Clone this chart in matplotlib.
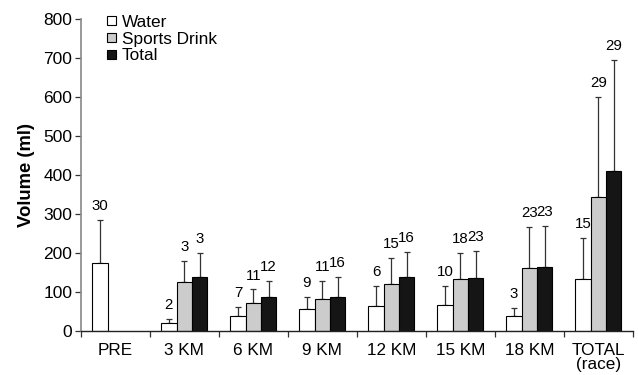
import numpy as np
import matplotlib
matplotlib.use("Agg")
import matplotlib.pyplot as plt
from matplotlib.patches import Rectangle

plt.rcParams['font.family'] = ['Liberation Sans', 'DejaVu Sans']

categories = ["PRE", "3 KM", "6 KM", "9 KM", "12 KM", "15 KM", "18 KM", "TOTAL\n(race)"]

water = [173, 20, 38, 55, 63, 65, 37, 132]
water_sd = [111, 10, 23, 32, 51, 51, 22, 107]
water_n = [30, 2, 7, 9, 6, 10, 3, 15]

sports = [np.nan, 126, 71, 81, 121, 133, 160, 343]
sports_sd = [np.nan, 54, 35, 47, 65, 68, 107, 258]
sports_n = [None, 3, 11, 11, 15, 18, 23, 29]

total = [np.nan, 138, 87, 86, 137, 135, 165, 410]
total_sd = [np.nan, 61, 42, 51, 66, 71, 105, 286]
total_n = [None, 3, 12, 16, 16, 23, 23, 29]

series = [
    ("Water", water, water_sd, water_n, "white"),
    ("Sports Drink", sports, sports_sd, sports_n, "#cccccc"),
    ("Total", total, total_sd, total_n, "#151515"),
]

W, H = 638, 375
fig = plt.figure(figsize=(W / 100, H / 100), dpi=100)
ax = fig.add_axes([0.1265, 0.118, 0.8655, 0.8305])

x = np.arange(len(categories))
width = 0.222
offsets = [-width, 0, width]

for (name, vals, sds, ns, color), off in zip(series, offsets):
    vals = np.array(vals, dtype=float)
    sds = np.array(sds, dtype=float)
    pos = x + off
    ax.bar(pos, vals, width, color=color, edgecolor="black", linewidth=0.8, label=name, zorder=2)
    mask = ~np.isnan(vals)
    ax.errorbar(pos[mask], vals[mask], yerr=[np.zeros(mask.sum()), sds[mask]],
                fmt="none", ecolor="#333333", elinewidth=0.9, capsize=2.2, capthick=0.9, zorder=1)
    for p, v, s, n in zip(pos, vals, sds, ns):
        if n is None or np.isnan(v):
            continue
        ax.annotate(str(n), (p, v + s), xytext=(0, 5), textcoords="offset points",
                    ha="center", va="bottom", fontsize=10.8)

ax.set_xlim(-0.5, len(categories) - 0.5)
ax.set_ylim(0, 800)
ax.set_yticks(np.arange(0, 801, 100))
ax.tick_params(axis="y", labelsize=12.5, length=4, width=0.9, color="#333333", pad=2)

ax.set_xticks(x)
ax.set_xticklabels(categories, fontsize=12.3, linespacing=0.9)
ax.tick_params(axis="x", which="major", length=0, pad=9)
ax.set_xticks(np.arange(-0.5, len(categories)), minor=True)
ax.tick_params(axis="x", which="minor", length=4, width=0.9, color="#333333", direction="out")

ax.spines["top"].set_visible(False)
ax.spines["right"].set_visible(False)
ax.spines["left"].set_color("#888888")
ax.spines["left"].set_linewidth(1.2)
ax.spines["bottom"].set_color("#222222")
ax.spines["bottom"].set_linewidth(1.0)

ax.set_ylabel("Volume (ml)", fontsize=13.3, fontweight="bold", labelpad=6)

# legend key: small swatches with labels, placed in pixel units
row_centers = [20.8, 37.6, 54.4]
for (name, _, _, _, color), yc in zip(series, row_centers):
    sq = 9.0
    fig.patches.append(Rectangle((106.7 / W, 1 - (yc + sq / 2) / H), sq / W, sq / H,
                                 transform=fig.transFigure, facecolor=color,
                                 edgecolor="black", linewidth=0.8))
    fig.text(122.0 / W, 1 - yc / H, name, fontsize=12.4, ha="left", va="center_baseline")

fig.savefig("out.png", dpi=100)
